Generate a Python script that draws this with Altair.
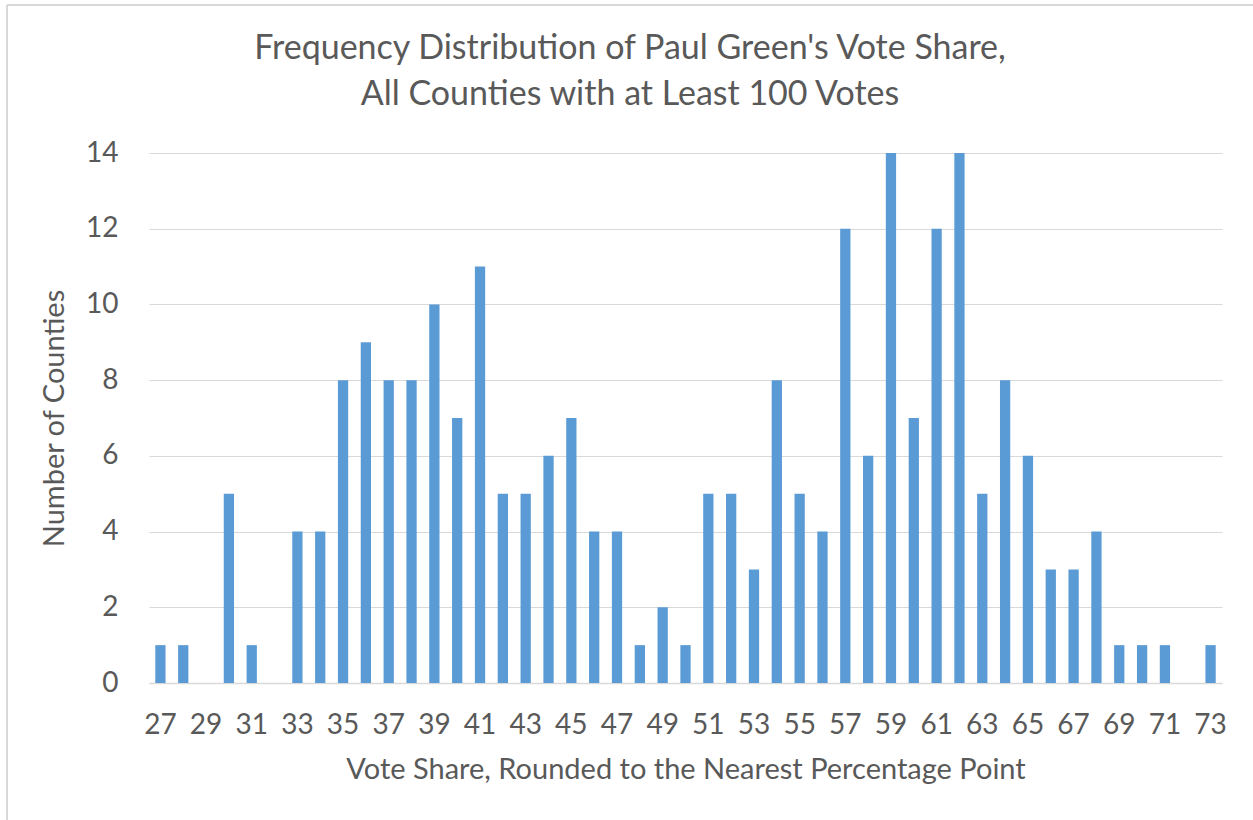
import altair as alt
import pandas as pd

shares = list(range(27, 74))
counts = [1, 1, 0, 5, 1, 0, 4, 4, 8, 9, 8, 8, 10, 7, 11, 5, 5, 6, 7, 4, 4, 1, 2, 1,
          5, 5, 3, 8, 5, 4, 12, 6, 14, 7, 12, 14, 5, 8, 6, 3, 3, 4, 1, 1, 1, 0, 1]
odd_labels = [s for s in shares if s % 2 == 1]
title_lines = ["Frequency Distribution of Paul Green's Vote Share,",
               "All Counties with at Least 100 Votes"]

df = pd.DataFrame({"share": shares, "count": counts})

W, H = 1073, 530
FONT = "Lato"
GREY = "#595959"

bars = alt.Chart(df).mark_bar(color="#5B9BD5").encode(
    x=alt.X("share:O", sort=shares,
            scale=alt.Scale(paddingInner=0.55, paddingOuter=0.275),
            axis=alt.Axis(title="Vote Share, Rounded to the Nearest Percentage Point",
                          values=odd_labels, labelAngle=0, labelPadding=28,
                          ticks=False, domainColor="#D9D9D9", domainWidth=1.5,
                          titlePadding=16)),
    y=alt.Y("count:Q", scale=alt.Scale(domain=[0, 14], nice=False),
            axis=alt.Axis(title="Number of Counties", values=list(range(0, 15, 2)),
                          ticks=False, domain=False, labelPadding=31,
                          gridColor="#D9D9D9", gridWidth=1.2, titlePadding=16)),
)

frame_left = alt.Chart(df).mark_rule(color="#D9D9D9", strokeWidth=1.5).encode(
    x=alt.value(-142), y=alt.value(-148), y2=alt.value(H + 140))
frame_top = alt.Chart(df).mark_rule(color="#D9D9D9", strokeWidth=1.5).encode(
    x=alt.value(-142), x2=alt.value(W + 40), y=alt.value(-148))

title_df = pd.DataFrame({"line": title_lines, "row": [0, 1]})
title = alt.Chart(title_df).mark_text(
    font=FONT, fontSize=34, color=GREY, align="center", baseline="middle"
).encode(
    text="line:N",
    x=alt.value(481),
    y=alt.Y("row:Q", scale=alt.Scale(domain=[0, 1], range=[-104, -58]), axis=None),
)

chart = alt.layer(frame_left, frame_top, bars, title).resolve_scale(y="independent").properties(
    width=W, height=H,
    autosize=alt.AutoSizeParams(type="none"),
    padding={"left": 149, "top": 153, "right": 31, "bottom": 137},
).configure_view(stroke=None).configure_axis(
    labelFont=FONT, titleFont=FONT, labelFontSize=28, titleFontSize=29,
    labelColor=GREY, titleColor=GREY, titleFontWeight="normal",
)

chart.save("out.html", embed_options={"renderer": "svg", "actions": False})
